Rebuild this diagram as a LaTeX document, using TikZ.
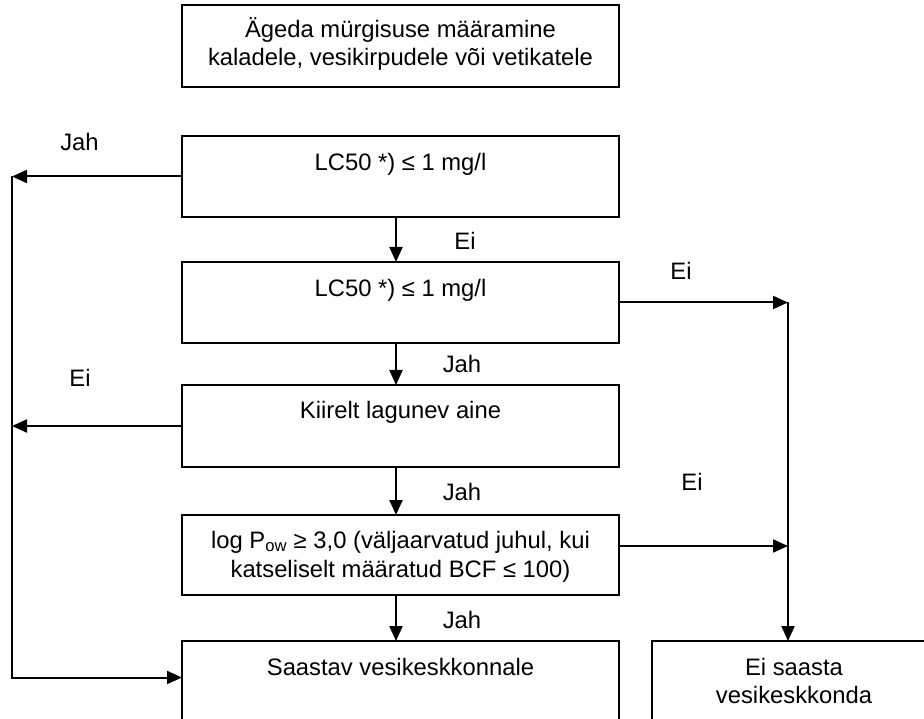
\documentclass[tikz,border=0pt]{standalone}
\usepackage{fontspec}
\setmainfont{Liberation Sans}
\usetikzlibrary{arrows.meta}
\begin{document}
\begin{tikzpicture}[x=1pt,y=-1pt,
  box/.style={draw,line width=2pt,inner sep=0pt,outer sep=0pt,minimum width=437pt,minimum height=81pt},
  txt/.style={anchor=base,inner sep=0pt,font=\fontsize{23.8}{29}\selectfont},
  arr/.style={line width=2pt,-{Triangle[length=15pt,width=13pt]}},
  ln/.style={line width=2pt}]
\clip (0,0) rectangle (924,719);
% boxes
\node[box,minimum height=82pt] (top) at (400.5,46) {};
\node[box] (b1) at (400.5,176.5) {};
\node[box] (b2) at (400.5,302.5) {};
\node[box,minimum height=82pt] (b3) at (400.5,426) {};
\node[box,minimum height=80pt] (b4) at (400.5,555) {};
\node[box] (b5) at (400.5,681.5) {};
\node[box,minimum width=284pt] (rb) at (794,681.5) {};
% box texts
\node[txt] (t0a) at (400.5,37.5) {Ägeda mürgisuse määramine};
\node[txt] (t0b) at (400.5,66) {kaladele, vesikirpudele või vetikatele};
\node[txt] (t1) at (400.5,171) {LC50 *) ≤ 1 mg/l};
\node[txt] (t2) at (400.5,297) {LC50 *) ≤ 1 mg/l};
\node[txt] (t3) at (400.5,418) {Kiirelt lagunev aine};
\node[txt] (t4a) at (400.5,548) {log P\textsubscript{ow} ≥ 3,0 (väljaarvatud juhul, kui};
\node[txt] (t4b) at (400.5,577) {katseliselt määratud BCF ≤ 100)};
\node[txt] (t5) at (400.5,675) {Saastav vesikeskkonnale};
\node[txt] (tra) at (794,675) {Ei saasta};
\node[txt] (trb) at (794,703) {vesikeskkonda};
% helper coordinates
\coordinate (X) at (396,0);
\coordinate (L) at (12,0);
\coordinate (R) at (788,0);
% vertical chain
\draw[arr] (b1.south -| X) -- (b2.north -| X);
\draw[arr] (b2.south -| X) -- (b3.north -| X);
\draw[arr] (b3.south -| X) -- (b4.north -| X);
\draw[arr] (b4.south -| X) -- (b5.north -| X);
% left branch
\draw[arr] (b1.west) -- (b1.west -| L);
\draw[arr] (b3.west) -- (b3.west -| L);
\draw[arr] (b1.west -| L) -- ([yshift=4pt]b5.west -| L) -- ([yshift=4pt]b5.west);
% right branch
\draw[arr] (b2.east) -- (b2.east -| R);
\draw[arr] ([yshift=9pt]b4.east) -- ([yshift=9pt]b4.east -| R);
\draw[arr] (b2.east -| R) -- (rb.north -| R);
% labels
\node[txt] (l1) at (79.5,151) {Jah};
\node[txt] (l2) at (465,250) {Ei};
\node[txt] (l3) at (681,280) {Ei};
\node[txt] (l4) at (80,386) {Ei};
\node[txt] (l5) at (462,373) {Jah};
\node[txt] (l6) at (692,490) {Ei};
\node[txt] (l7) at (462,500) {Jah};
\node[txt] (l8) at (462,628) {Jah};
\end{tikzpicture}
\end{document}
